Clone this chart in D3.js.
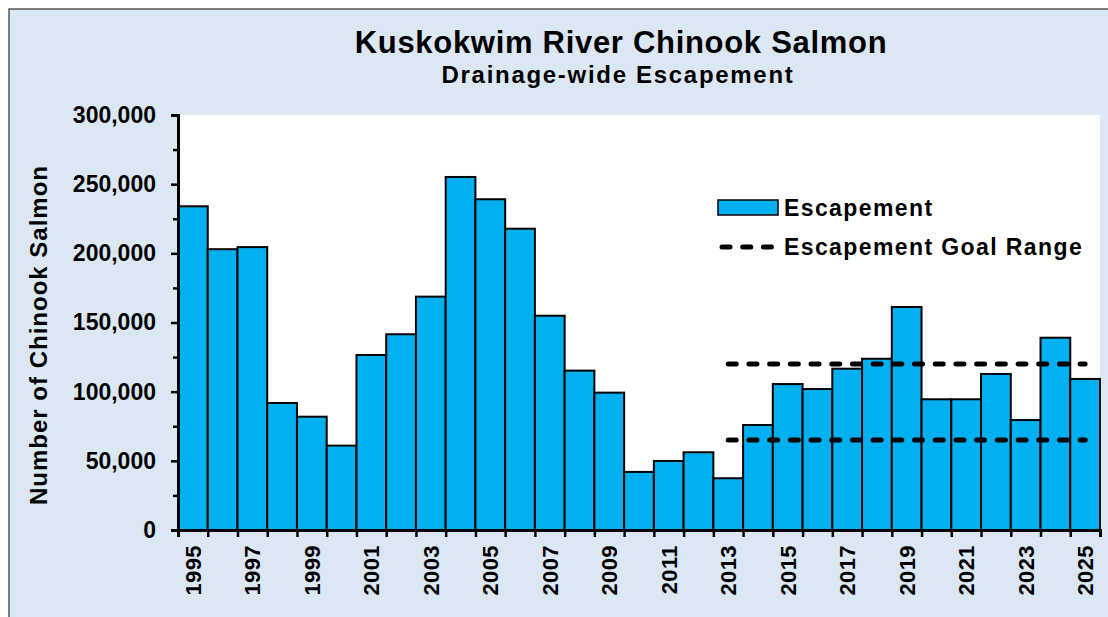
<!DOCTYPE html>
<html>
<head>
<meta charset="utf-8">
<script src="https://cdn.jsdelivr.net/npm/d3@7"></script>
<style>
  html, body { margin: 0; padding: 0; background: #ffffff; }
  svg { display: block; font-family: "Liberation Sans", Arial, sans-serif; font-weight: bold; }
</style>
</head>
<body>
<svg id="chart" width="1108" height="617"></svg>
<script>
// escapement by year
const years = [1995, 1996, 1997, 1998, 1999, 2000, 2001, 2002, 2003, 2004,
  2005, 2006, 2007, 2008, 2009, 2010, 2011, 2012, 2013, 2014,
  2015, 2016, 2017, 2018, 2019, 2020, 2021, 2022, 2023, 2024, 2025];
const escapement = [234000, 203000, 204500, 91800, 81900, 61000, 126500, 141500, 168700, 255200,
  239100, 217800, 154900, 115200, 99300, 42000, 49900, 56200, 37400, 75900,
  105500, 101900, 116600, 123800, 161200, 94500, 94500, 112800, 79500, 139000, 109200];
const yTicks = [0, 50000, 100000, 150000, 200000, 250000, 300000];
const yMinorTicks = [25000, 75000, 125000, 175000, 225000, 275000];
const xLabelYears = [1995, 1997, 1999, 2001, 2003, 2005, 2007, 2009, 2011, 2013,
  2015, 2017, 2019, 2021, 2023, 2025];
const goalRange = [65000, 120000];
const goalYears = [2013, 2025];
const legendItems = ["Escapement", "Escapement Goal Range"];

const width = 1108;
const height = 617;
const margin = { top: 115, right: 8, bottom: 87, left: 178 };
const barColor = "#00b0f0";

const svg = d3.select("#chart");

// outer chart area
svg.append("rect")
    .attr("x", 9)
    .attr("y", 9)
    .attr("width", width)
    .attr("height", height)
    .attr("fill", "#dce7f4")
    .attr("stroke", "#555")
    .attr("stroke-width", 1.5);

const x = d3.scaleBand()
    .domain(years)
    .range([margin.left, width - margin.right])
    .padding(0);

const y = d3.scaleLinear()
    .domain([0, 300000])
    .range([height - margin.bottom, margin.top]);

// plot area
svg.append("rect")
    .attr("x", margin.left)
    .attr("y", margin.top)
    .attr("width", width - margin.right - margin.left)
    .attr("height", height - margin.bottom - margin.top)
    .attr("fill", "white");

// titles
svg.append("text")
    .attr("x", 621)
    .attr("y", 53)
    .attr("text-anchor", "middle")
    .style("font-size", "31px")
    .style("letter-spacing", "0.7px")
    .text("Kuskokwim River Chinook Salmon");

svg.append("text")
    .attr("x", 618)
    .attr("y", 83)
    .attr("text-anchor", "middle")
    .style("font-size", "24px")
    .style("letter-spacing", "1.7px")
    .text("Drainage-wide Escapement");

// bars
svg.append("g")
    .selectAll("rect")
    .data(years.map((yr, i) => ({ year: yr, value: escapement[i] })))
    .enter()
    .append("rect")
    .attr("x", d => x(d.year))
    .attr("y", d => y(d.value))
    .attr("width", x.bandwidth())
    .attr("height", d => y(0) - y(d.value))
    .attr("fill", barColor)
    .attr("stroke", "black")
    .attr("stroke-width", 2);

// goal range lines
const goalLine = svg.append("g");
goalRange.forEach(v => {
  goalLine.append("line")
      .attr("x1", x(goalYears[0]) + x.bandwidth() / 2)
      .attr("x2", x(goalYears[1]) + x.bandwidth() / 2)
      .attr("y1", y(v))
      .attr("y2", y(v))
      .attr("stroke", "black")
      .attr("stroke-width", 5)
      .attr("stroke-linecap", "round")
      .attr("stroke-dasharray", "8,12.7");
});

// y axis, major + minor ticks
const yAxis = svg.append("g")
    .attr("transform", `translate(${margin.left},0)`)
    .call(d3.axisLeft(y).tickValues(yTicks).tickSize(7).tickPadding(15).tickFormat(d3.format(",")));

svg.append("g")
    .attr("transform", `translate(${margin.left},0)`)
    .call(d3.axisLeft(y).tickValues(yMinorTicks).tickSize(5).tickFormat(""))
    .call(g => g.select(".domain").remove());

yAxis.selectAll("text")
    .style("font-size", "23px")
    .style("font-family", "Liberation Sans, Arial, sans-serif")
    .style("font-weight", "bold")
    .attr("fill", "black");

// x axis: ticks on the bar edges, labels every other year
const xEdge = d3.scaleLinear()
    .domain([0, years.length])
    .range([margin.left, width - margin.right]);

svg.append("g")
    .attr("transform", `translate(0,${height - margin.bottom})`)
    .call(d3.axisBottom(xEdge).tickValues(years.map((d, i) => i).concat([years.length])).tickSize(7).tickFormat(""));

const xLabels = svg.append("g")
    .attr("transform", `translate(0,${height - margin.bottom})`)
    .call(d3.axisBottom(x).tickValues(xLabelYears).tickSize(0))
    .call(g => g.select(".domain").remove());

xLabels.selectAll("text")
    .attr("transform", "rotate(-90)")
    .attr("x", -15)
    .attr("y", 0)
    .attr("dy", "0.36em")
    .attr("text-anchor", "end")
    .style("font-size", "22px")
    .style("letter-spacing", "0.4px")
    .style("font-family", "Liberation Sans, Arial, sans-serif")
    .style("font-weight", "bold")
    .attr("fill", "black");

svg.selectAll(".domain")
    .attr("stroke-width", 3);
svg.selectAll(".tick line")
    .attr("stroke-width", 2.5);

// y axis title
svg.append("text")
    .attr("transform", `translate(47,335) rotate(-90)`)
    .attr("text-anchor", "middle")
    .style("font-size", "24px")
    .style("letter-spacing", "1px")
    .text("Number of Chinook Salmon");

// legend
const legend = svg.append("g")
    .attr("transform", "translate(718,208)");

legend.append("rect")
    .attr("x", 0)
    .attr("y", -8)
    .attr("width", 60)
    .attr("height", 15)
    .attr("fill", barColor)
    .attr("stroke", "black")
    .attr("stroke-width", 1.5);

legend.append("line")
    .attr("x1", 4)
    .attr("x2", 60)
    .attr("y1", 39)
    .attr("y2", 39)
    .attr("stroke", "black")
    .attr("stroke-width", 5)
    .attr("stroke-linecap", "round")
    .attr("stroke-dasharray", "8,12.7");

legend.selectAll("text")
    .data(legendItems)
    .enter()
    .append("text")
    .attr("x", 66)
    .attr("y", (d, i) => i * 39 + 8)
    .style("font-size", "23px")
    .style("letter-spacing", "1.4px")
    .text(d => d);
</script>
</body>
</html>
